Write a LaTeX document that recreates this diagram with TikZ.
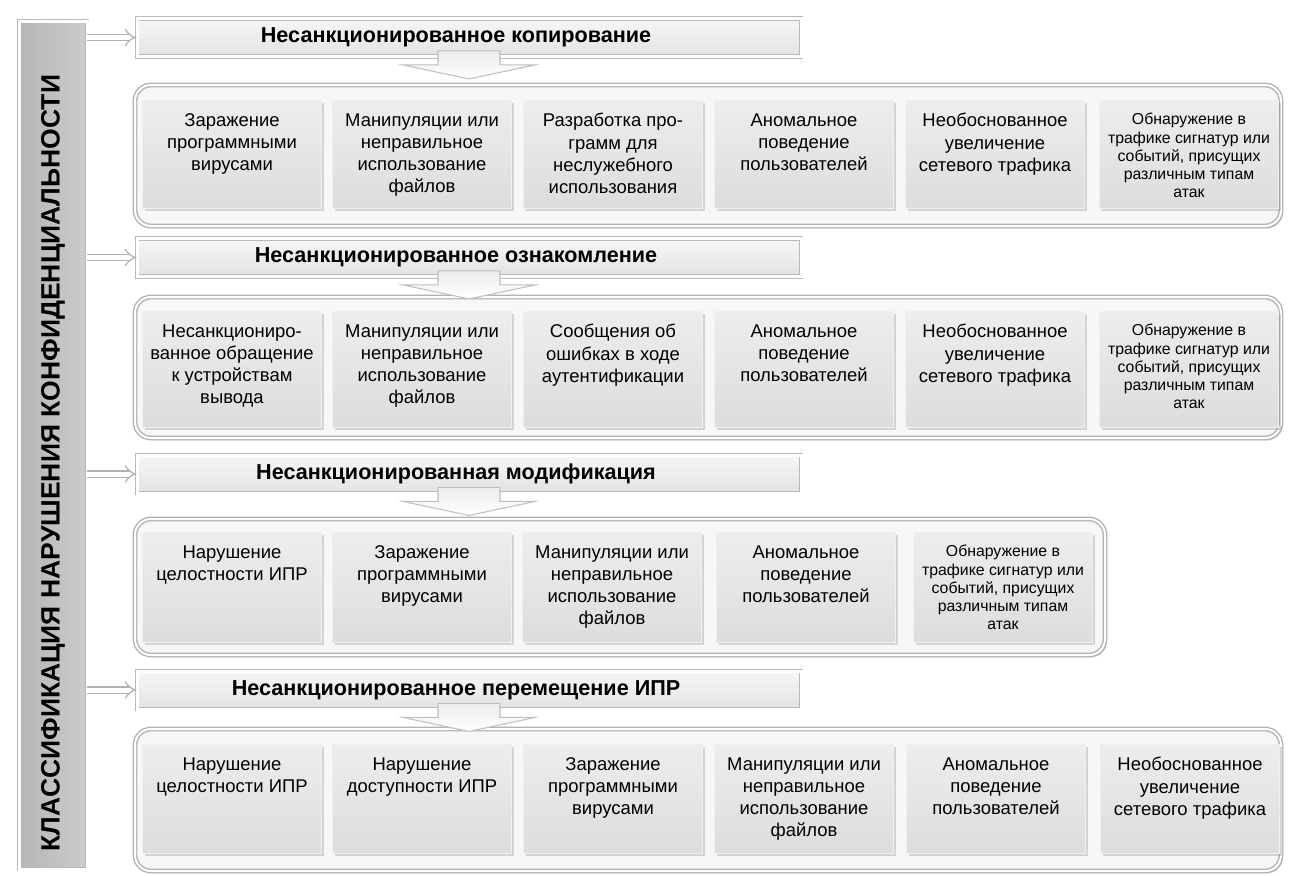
\documentclass[tikz,border=0pt]{standalone}
\usepackage{fontspec}
\setmainfont{Liberation Sans}
\usetikzlibrary{arrows.meta,shadows}
\newlength\pxu
\setlength\pxu{0.02cm}
\newcommand\attackfont{\fontsize{9}{10.3}\selectfont}

\begin{document}
\begin{tikzpicture}[x=0.02cm,y=-0.02cm,
  soft/.style={drop shadow={opacity=0.3,shadow xshift=1.2pt,shadow yshift=-1.4pt}},
  classbar/.style={draw=gray!55,double=white,double distance=3\pxu,line width=0.5pt,left color=gray!58,right color=gray!40,minimum width=68\pxu,minimum height=848\pxu,soft},
  bartitle/.style={rotate=90,font=\fontsize{15.1}{18}\selectfont\bfseries},
  header/.style={draw=gray!55,double=white,double distance=3\pxu,line width=0.5pt,top color=gray!7,bottom color=gray!22,minimum width=664\pxu,minimum height=38\pxu,font=\fontsize{12.3}{14}\selectfont\bfseries,soft,execute at begin node={\hspace*{-26\pxu}}},
  group/.style={draw=gray!60,double=white,double distance=2\pxu,line width=0.8pt,fill=gray!6,rounded corners=16\pxu,minimum width=1146\pxu,soft},
  cell/.style={anchor=north,draw=gray!12,top color=gray!14,bottom color=gray!27,minimum width=179\pxu,inner xsep=1.5\pxu,inner ysep=13\pxu,soft,
    execute at begin node={\begin{minipage}[t][#1\pxu][t]{176\pxu}\centering\fontsize{10.5}{12.6}\selectfont},
    execute at end node={\endgraf\end{minipage}}},
  feed/.style={draw=gray!60,double=white,double distance=5\pxu,line width=0.7pt,-{Implies}},
  chevron/.style={draw=gray!50,line width=0.6pt,top color=gray!14,bottom color=white}
]
\useasboundingbox (0,0) rectangle (1289,876);
\fill[white] (0,0) rectangle (1289,876);

\node[classbar] (bar) at (53,445) {};
\node[bartitle] (title) at (53,463) {КЛАССИФИКАЦИЯ НАРУШЕНИЯ КОНФИДЕНЦИАЛЬНОСТИ};

\node[group,minimum height=141\pxu] (g1) at (708,155.5) {};
\node[group,minimum height=141\pxu] (g2) at (708,367.5) {};
\node[group,minimum height=136\pxu,minimum width=970\pxu] (g3) at (620,587) {};
\node[group,minimum height=142\pxu] (g4) at (708,800) {};

\node[header] (h1) at (469,37.5) {Несанкционированное копирование};
\node[header] (h2) at (469,257.5) {Несанкционированное ознакомление};
\node[header] (h3) at (469,474) {Несанкционированная модификация};
\node[header] (h4) at (469,690) {Несанкционированное перемещение ИПР};

\draw[feed] (bar.east |- h1) -- (h1.west);
\draw[feed] (bar.east |- h2) -- (h2.west);
\draw[feed] (bar.east |- h3) -- (h3.west);
\draw[feed] (bar.east |- h4) -- (h4.west);

\foreach \h in {h1,h2,h3,h4}
  \draw[chevron] (\h.south) ++(-31,-6) -- ++(0,14) -- ++(-35,0) -- ++(66,14) -- ++(66,-14) -- ++(-35,0) -- ++(0,-14) -- cycle;

\node[cell=82] (c11) at (232,100) {Заражение\\программными\\вирусами};
\node[cell=82] (c12) at (422,100) {Манипуляции или\\неправильное\\использование\\файлов};
\node[cell=82] (c13) at (613,100) {Разработка про-\\грамм для\\неслужебного\\использования};
\node[cell=82] (c14) at (804,100) {Аномальное\\поведение\\пользователей};
\node[cell=82] (c15) at (995,100) {Необоснованное\\увеличение\\сетевого трафика};
\node[cell=82] (c16) at (1189,100) {\attackfont Обнаружение в\\трафике сигнатур или\\событий, присущих\\различным типам\\атак\endgraf};

\node[cell=90] (c21) at (232,311) {Несанкциониро-\\ванное обращение\\к устройствам\\вывода};
\node[cell=90] (c22) at (422,311) {Манипуляции или\\неправильное\\использование\\файлов};
\node[cell=90] (c23) at (613,311) {Сообщения об\\ошибках в ходе\\аутентификации};
\node[cell=90] (c24) at (804,311) {Аномальное\\поведение\\пользователей};
\node[cell=90] (c25) at (995,311) {Необоснованное\\увеличение\\сетевого трафика};
\node[cell=90] (c26) at (1189,311) {\attackfont Обнаружение в\\трафике сигнатур или\\событий, присущих\\различным типам\\атак\endgraf};

\node[cell=84] (c31) at (232,532) {Нарушение\\целостности ИПР};
\node[cell=84] (c32) at (422,532) {Заражение\\программными\\вирусами};
\node[cell=84] (c33) at (612,532) {Манипуляции или\\неправильное\\использование\\файлов};
\node[cell=84] (c34) at (806,532) {Аномальное\\поведение\\пользователей};
\node[cell=84] (c35) at (1003,532) {\attackfont Обнаружение в\\трафике сигнатур или\\событий, присущих\\различным типам\\атак\endgraf};

\node[cell=83] (c41) at (232,744) {Нарушение\\целостности ИПР};
\node[cell=83] (c42) at (422,744) {Нарушение\\доступности ИПР};
\node[cell=83] (c43) at (613,744) {Заражение\\программными\\вирусами};
\node[cell=83] (c44) at (804,744) {Манипуляции или\\неправильное\\использование\\файлов};
\node[cell=83] (c45) at (996,744) {Аномальное\\поведение\\пользователей};
\node[cell=83] (c46) at (1190,744) {Необоснованное\\увеличение\\сетевого трафика};
\end{tikzpicture}
\end{document}
